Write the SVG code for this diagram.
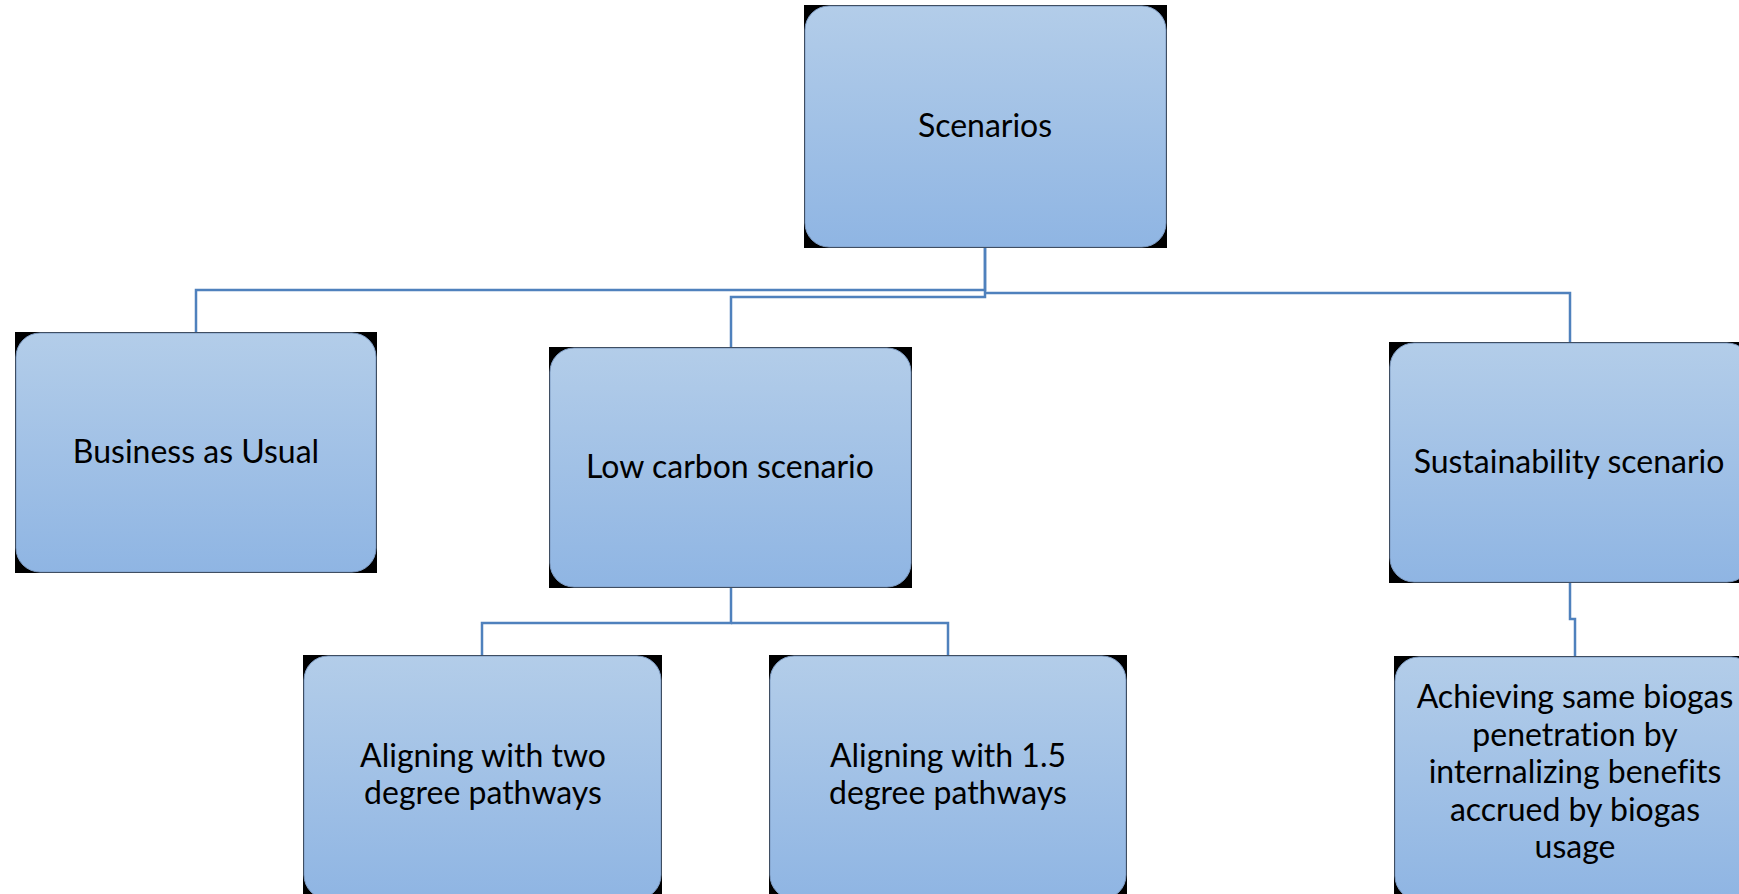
<svg xmlns="http://www.w3.org/2000/svg" width="1739" height="894" viewBox="0 0 1739 894">
<style>
.bg{fill:#000}
.box{fill:url(#g);stroke:#7e9cc4;stroke-width:1}
.t{font-family:Lato,"Liberation Sans",sans-serif;font-size:32px;fill:#000;text-anchor:middle;font-variant-ligatures:none;font-feature-settings:"liga" 0,"clig" 0,"dlig" 0}
.c{fill:none;stroke:#4f81bd;stroke-width:2.5}
</style>
<defs>
<linearGradient id="g" x1="0" y1="0" x2="0" y2="1">
<stop offset="0" stop-color="#b3cde9"/>
<stop offset="1" stop-color="#8fb5e3"/>
</linearGradient>
</defs>
<rect width="1739" height="894" fill="#fff"/>
<g id="connectors">
<path class="c" d="M985,248 V290 H196 V332"/>
<path class="c" d="M985,248 V297 H731 V347"/>
<path class="c" d="M985,293 H1570 V342"/>
<path class="c" d="M731,588 V623 H482 V655"/>
<path class="c" d="M731,623 H948 V655"/>
<path class="c" d="M1570,583 V619 H1575 V656"/>
</g>
<g id="scenarios">
<rect class="bg" x="804" y="5" width="363" height="243"/>
<rect class="box" x="805" y="6" width="361" height="241" rx="24"/>
<text class="t" x="985" y="137">Scenarios</text>
</g>
<g id="bau">
<rect class="bg" x="15" y="332" width="362" height="241"/>
<rect class="box" x="16" y="333" width="360" height="239" rx="24"/>
<text class="t" x="196" y="463">Business as Usual</text>
</g>
<g id="lowcarbon">
<rect class="bg" x="549" y="347" width="363" height="241"/>
<rect class="box" x="550" y="348" width="361" height="239" rx="24"/>
<text class="t" x="730" y="478">Low carbon scenario</text>
</g>
<g id="sustainability">
<rect class="bg" x="1389" y="342" width="363" height="241"/>
<rect class="box" x="1390" y="343" width="361" height="239" rx="24"/>
<text class="t" x="1569" y="473">Sustainability scenario</text>
</g>
<g id="twodegree">
<rect class="bg" x="303" y="655" width="359" height="245"/>
<rect class="box" x="304" y="656" width="357" height="243" rx="24"/>
<text class="t" x="483" y="767">Aligning with two</text>
<text class="t" x="483" y="804">degree pathways</text>
</g>
<g id="onefive">
<rect class="bg" x="769" y="655" width="358" height="245"/>
<rect class="box" x="770" y="656" width="356" height="243" rx="24"/>
<text class="t" x="948" y="767">Aligning with 1.5</text>
<text class="t" x="948" y="804">degree pathways</text>
</g>
<g id="achieving">
<rect class="bg" x="1394" y="656" width="362" height="245"/>
<rect class="box" x="1395" y="657" width="360" height="243" rx="24"/>
<text class="t" x="1575" y="708">Achieving same biogas</text>
<text class="t" x="1575" y="745.5">penetration by</text>
<text class="t" x="1575" y="783">internalizing benefits</text>
<text class="t" x="1575" y="820.5">accrued by biogas</text>
<text class="t" x="1575" y="858">usage</text>
</g>
</svg>
